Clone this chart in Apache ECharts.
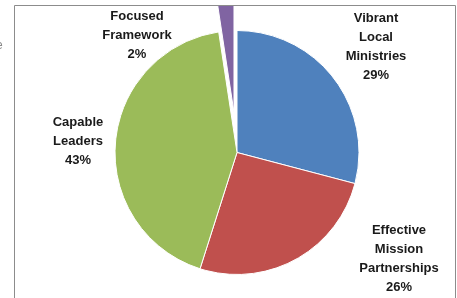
<!DOCTYPE html>
<html style="height: 100%">

<head>
  <meta charset="utf-8">
</head>

<body style="height: 100%; margin: 0; background: #fff">
  <div id="container" style="width: 457px; height: 298px"></div>
  <script type="text/javascript" src="https://cdn.jsdelivr.net/npm/echarts@6/dist/echarts.min.js"></script>
  <script type="text/javascript">
  var categories = ['Vibrant Local Ministries', 'Effective Mission Partnerships', 'Capable Leaders', 'Focused Framework'];
  var values = [29.1, 25.8, 42.7, 2.4];
  var colors = ['#4F81BD', '#C0504D', '#9BBB59', '#8064A2'];
  var exploded = 3; // the pulled-out slice
  // where each label block sits (centre of the block)
  var labelSpots = [[376, 47], [399, 259], [78, 141], [137, 35]];

  var dom = document.getElementById('container');
  var myChart = echarts.init(dom);

  var pieCenter = [237, 152.5];
  var pieRadius = 122;
  var pullOut = 40;

  // mid angle of the exploded slice, clockwise from 12 o'clock
  var total = values.reduce(function (a, b) { return a + b; }, 0);
  var before = 0;
  for (var k = 0; k < exploded; k++) before += values[k];
  var mid = (before + values[exploded] / 2) / total * Math.PI * 2;
  var pulledCenter = [pieCenter[0] + pullOut * Math.sin(mid), pieCenter[1] - pullOut * Math.cos(mid)];

  var clear = 'rgba(0,0,0,0)';

  option = {
    animation: false,
    graphic: [{
      // the chart area clips whatever pokes out above it
      type: 'rect',
      shape: { x: 0, y: 0, width: 457, height: 5.5 },
      style: { fill: '#fff' },
      z: 100
    }, {
      type: 'rect',
      shape: { x: 14.5, y: 5.5, width: 441, height: 300 },
      style: { fill: null, stroke: '#8c8c8c', lineWidth: 1 },
      z: 101
    }, {
      type: 'text',
      left: -4,
      top: 40,
      style: { text: 'e', fill: '#888', font: '12px "Liberation Sans"' }
    }],
    series: [{
      type: 'pie',
      center: pieCenter,
      radius: pieRadius,
      startAngle: 90,
      clockwise: true,
      silent: true,
      percentPrecision: 0,
      z: 3,
      label: {
        show: true,
        position: 'outside',
        color: '#1a1a1a',
        fontFamily: 'Liberation Sans',
        fontWeight: 'bold',
        fontSize: 13,
        lineHeight: 19,
        align: 'center',
        formatter: function (p) {
          return p.name.split(' ').join('\n') + '\n' + p.percent + '%';
        }
      },
      labelLine: { show: false },
      labelLayout: function (p) {
        var s = labelSpots[p.dataIndex];
        return { x: s[0], y: s[1], align: 'center', verticalAlign: 'middle' };
      },
      data: categories.map(function (c, i) {
        return {
          name: c,
          value: values[i],
          itemStyle: i === exploded
            ? { color: clear, borderWidth: 0 }
            : { color: colors[i], borderColor: '#fff', borderWidth: 1 }
        };
      })
    }, {
      type: 'pie',
      center: pulledCenter,
      radius: pieRadius,
      startAngle: 90,
      clockwise: true,
      silent: true,
      z: 4,
      label: { show: false },
      labelLine: { show: false },
      data: categories.map(function (c, i) {
        return {
          name: c,
          value: values[i],
          itemStyle: i === exploded
            ? { color: colors[i], borderColor: '#fff', borderWidth: 1 }
            : { color: clear, borderWidth: 0 }
        };
      })
    }]
  };

  myChart.setOption(option);
  </script>
</body>

</html>
